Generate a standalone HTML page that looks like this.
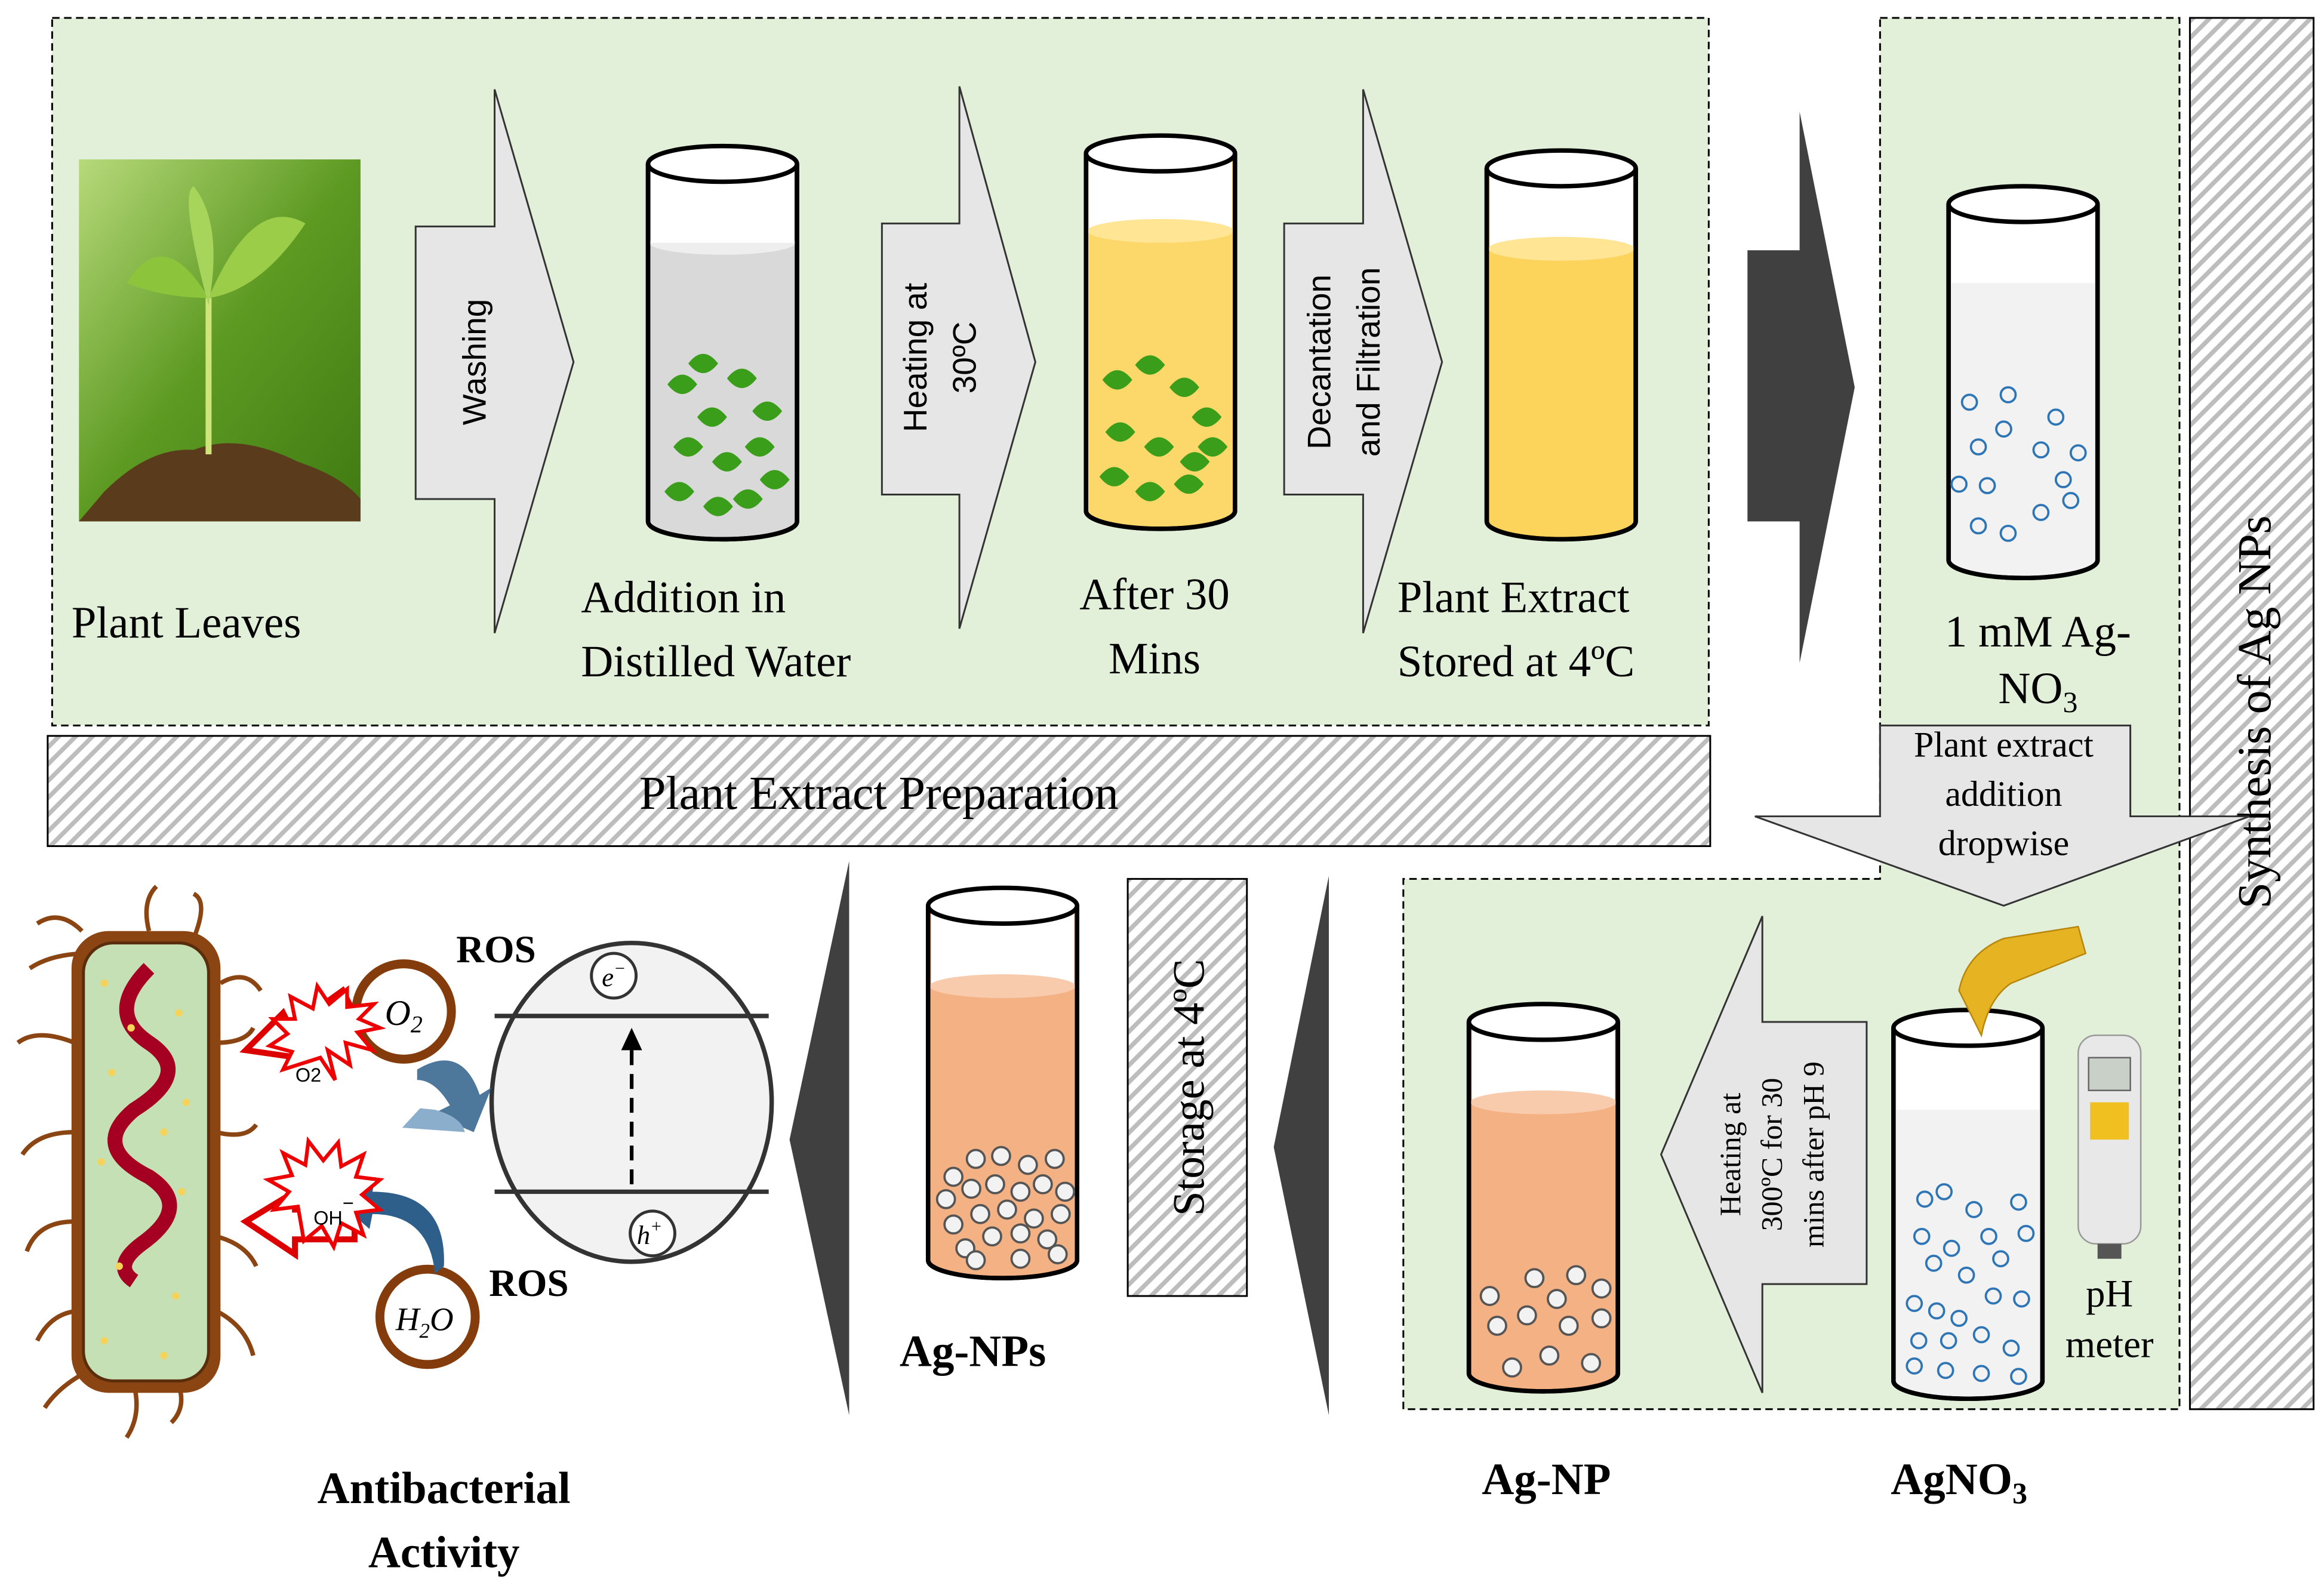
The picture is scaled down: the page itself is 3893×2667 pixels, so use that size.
<!DOCTYPE html>
<html><head><meta charset="utf-8"><style>html,body{margin:0;padding:0;background:#fff}svg{display:block}</style></head>
<body>
<svg width="3893" height="2667" viewBox="0 0 1560 1068.7" xmlns="http://www.w3.org/2000/svg" font-family="Liberation Serif, serif">
<defs>
<pattern id="hat" width="8" height="8" patternUnits="userSpaceOnUse" patternTransform="rotate(45)"><rect width="8" height="8" fill="#fff"/><rect width="3" height="8" fill="#bdbdbd"/></pattern>
<linearGradient id="bg" x1="0" y1="0" x2="1" y2="1"><stop offset="0" stop-color="#b7d97a"/><stop offset="0.5" stop-color="#5d9a22"/><stop offset="1" stop-color="#3f7a12"/></linearGradient>
<g id="leaf"><path d="M0,0 q10,-13 20,0 q-10,13 -20,0z" fill="#3a9e1a"/></g>
</defs>
<rect width="1560" height="1069" fill="#fff"/>
<rect x="35" y="12" width="1112" height="475" fill="#e2efd9" stroke="#000" stroke-width="1.2" stroke-dasharray="5,3"/>
<path d="M1262,12 H1463 V946 H942 V590 H1262 Z" fill="#e2efd9" stroke="#000" stroke-width="1.2" stroke-dasharray="5,3"/>
<rect x="32" y="494" width="1116" height="74" fill="url(#hat)" stroke="#000" stroke-width="1.2"/>
<text x="590" y="543" font-size="32" text-anchor="middle">Plant Extract Preparation</text>
<rect x="1470" y="12" width="83" height="934" fill="url(#hat)" stroke="#000" stroke-width="1.2"/>
<text transform="translate(1524,478) rotate(-90)" font-size="32" text-anchor="middle">Synthesis of Ag NPs</text>
<rect x="757" y="590" width="80" height="280" fill="url(#hat)" stroke="#000" stroke-width="1.2"/>
<text transform="translate(808,730) rotate(-90)" font-size="30" text-anchor="middle">Storage at 4ºC</text>
<rect x="53" y="107" width="189" height="243" fill="url(#bg)"/>
<path d="M53,350 L70,330 Q100,300 130,302 Q160,290 200,310 Q230,320 242,335 L242,350Z" fill="#5a3b1c"/>
<path d="M140,305 L140,200" stroke="#cfe47a" stroke-width="4"/>
<path d="M140,200 Q110,150 85,190 Q110,200 140,200Z" fill="#8cc43c"/>
<path d="M140,200 Q170,130 205,150 Q175,195 140,200Z" fill="#9ccd48"/>
<path d="M140,205 Q120,130 130,125 Q150,150 140,205Z" fill="#a7d45a"/>
<text x="48" y="428" font-size="30">Plant Leaves</text>
<g fill="#e6e6e6" stroke="#333" stroke-width="1.2">
<path d="M279,152 H332 V60 L385,243 L332,425 V335 H279Z"/>
<path d="M592,150 H644 V58 L695,243 L644,422 V332 H592Z"/>
<path d="M862,150 H915 V60 L968,243 L915,425 V332 H862Z"/>
<path d="M1178,548 H1262 V487 H1430 V548 H1510 L1345,608Z"/>
<path d="M1253,686 V862 H1183 V935 L1115,775 L1183,615 V686Z"/>
</g>
<g font-family="Liberation Sans, sans-serif" font-size="22">
<text transform="translate(326,243) rotate(-90)" text-anchor="middle">Washing</text>
<text transform="translate(622,240) rotate(-90)" text-anchor="middle">Heating at</text>
<text transform="translate(655,240) rotate(-90)" text-anchor="middle">30ºC</text>
<text transform="translate(893,243) rotate(-90)" text-anchor="middle">Decantation</text>
<text transform="translate(926,243) rotate(-90)" text-anchor="middle">and Filtration</text>
</g>
<text x="1345" y="508" font-size="24" text-anchor="middle">Plant extract</text>
<text x="1345" y="541" font-size="24" text-anchor="middle">addition</text>
<text x="1345" y="574" font-size="24" text-anchor="middle">dropwise</text>
<g font-size="20" text-anchor="middle">
<text transform="translate(1168,775) rotate(-90)">Heating at</text>
<text transform="translate(1196,775) rotate(-90)">300ºC for 30</text>
<text transform="translate(1224,775) rotate(-90)">mins after pH 9</text>
</g>
<g fill="#404040">
<path d="M1173,168 H1208 V75 L1245,260 L1208,445 V350 H1173Z"/>
<path d="M892,588 L855,770 L892,950Z"/>
<path d="M570,578 L530,765 L570,950Z"/>
</g>
<g stroke="#000" stroke-width="3">
<path d="M435,110 V350 A50,12 0 0 0 535,350 V110" fill="#d9d9d9"/>
<ellipse cx="485" cy="163" rx="49" ry="8" fill="#eeeeee" stroke="none"/>
<path d="M437,110 V163 H533 V110Z" fill="#fff" stroke="none"/>
<ellipse cx="485" cy="110" rx="50" ry="12" fill="#fff"/>
<path d="M435,110 V350 A50,12 0 0 0 535,350 V110" fill="none"/>
<path d="M729,103 V343 A50,12 0 0 0 829,343 V103" fill="#fcd76a"/>
<path d="M731,103 V155 H827 V103Z" fill="#fff" stroke="none"/>
<ellipse cx="779" cy="155" rx="49" ry="8" fill="#ffe594" stroke="none"/>
<ellipse cx="779" cy="103" rx="50" ry="12" fill="#fff"/>
<path d="M729,103 V343 A50,12 0 0 0 829,343 V103" fill="none"/>
<path d="M998,113 V350 A50,12 0 0 0 1098,350 V113" fill="#fcd45c"/>
<path d="M1000,113 V167 H1096 V113Z" fill="#fff" stroke="none"/>
<ellipse cx="1048" cy="167" rx="49" ry="8" fill="#ffe594" stroke="none"/>
<ellipse cx="1048" cy="113" rx="50" ry="12" fill="#fff"/>
<path d="M998,113 V350 A50,12 0 0 0 1098,350 V113" fill="none"/>
<path d="M1308,137 V376 A50,12 0 0 0 1408,376 V137" fill="#f2f2f2"/>
<path d="M1310,137 V190 H1406 V137Z" fill="#fff" stroke="none"/>
<ellipse cx="1358" cy="137" rx="50" ry="12" fill="#fff"/>
<path d="M1308,137 V376 A50,12 0 0 0 1408,376 V137" fill="none"/>
<path d="M1271,690 V927 A50,12 0 0 0 1371,927 V690" fill="#f2f2f2"/>
<path d="M1273,690 V745 H1369 V690Z" fill="#fff" stroke="none"/>
<ellipse cx="1321" cy="690" rx="50" ry="12" fill="#fff"/>
<path d="M1271,690 V927 A50,12 0 0 0 1371,927 V690" fill="none"/>
<path d="M986,686 V922 A50,12 0 0 0 1086,922 V686" fill="#f4b183"/>
<path d="M988,686 V740 H1084 V686Z" fill="#fff" stroke="none"/>
<ellipse cx="1036" cy="740" rx="49" ry="8" fill="#f8cbad" stroke="none"/>
<ellipse cx="1036" cy="686" rx="50" ry="12" fill="#fff"/>
<path d="M986,686 V922 A50,12 0 0 0 1086,922 V686" fill="none"/>
<path d="M623,608 V846 A50,12 0 0 0 723,846 V608" fill="#f4b183"/>
<path d="M625,608 V662 H721 V608Z" fill="#fff" stroke="none"/>
<ellipse cx="673" cy="662" rx="49" ry="8" fill="#f8cbad" stroke="none"/>
<ellipse cx="673" cy="608" rx="50" ry="12" fill="#fff"/>
<path d="M623,608 V846 A50,12 0 0 0 723,846 V608" fill="none"/>
</g>
<g>
<use href="#leaf" x="448" y="258"/><use href="#leaf" x="468" y="280"/><use href="#leaf" x="488" y="254"/><use href="#leaf" x="505" y="276"/><use href="#leaf" x="452" y="300"/><use href="#leaf" x="478" y="310"/><use href="#leaf" x="500" y="300"/><use href="#leaf" x="510" y="322"/><use href="#leaf" x="446" y="330"/><use href="#leaf" x="472" y="340"/><use href="#leaf" x="492" y="335"/><use href="#leaf" x="462" y="244"/>
<use href="#leaf" x="740" y="255"/><use href="#leaf" x="762" y="245"/><use href="#leaf" x="785" y="260"/><use href="#leaf" x="800" y="280"/><use href="#leaf" x="742" y="290"/><use href="#leaf" x="768" y="300"/><use href="#leaf" x="792" y="310"/><use href="#leaf" x="738" y="320"/><use href="#leaf" x="762" y="330"/><use href="#leaf" x="788" y="325"/><use href="#leaf" x="804" y="300"/>
</g>
<g fill="none" stroke="#2e75b6" stroke-width="1.5">
<circle cx="1322" cy="270" r="5"/><circle cx="1348" cy="265" r="5"/><circle cx="1380" cy="280" r="5"/><circle cx="1328" cy="300" r="5"/><circle cx="1345" cy="288" r="5"/><circle cx="1370" cy="302" r="5"/><circle cx="1395" cy="304" r="5"/><circle cx="1315" cy="325" r="5"/><circle cx="1334" cy="326" r="5"/><circle cx="1385" cy="322" r="5"/><circle cx="1390" cy="336" r="5"/><circle cx="1328" cy="353" r="5"/><circle cx="1348" cy="358" r="5"/><circle cx="1370" cy="344" r="5"/>
<circle cx="1292" cy="805" r="5"/><circle cx="1305" cy="800" r="5"/><circle cx="1325" cy="812" r="5"/><circle cx="1355" cy="807" r="5"/><circle cx="1290" cy="830" r="5"/><circle cx="1310" cy="838" r="5"/><circle cx="1335" cy="830" r="5"/><circle cx="1360" cy="828" r="5"/><circle cx="1298" cy="848" r="5"/><circle cx="1320" cy="856" r="5"/><circle cx="1343" cy="845" r="5"/><circle cx="1285" cy="875" r="5"/><circle cx="1300" cy="880" r="5"/><circle cx="1315" cy="885" r="5"/><circle cx="1338" cy="870" r="5"/><circle cx="1357" cy="872" r="5"/><circle cx="1288" cy="900" r="5"/><circle cx="1308" cy="900" r="5"/><circle cx="1330" cy="896" r="5"/><circle cx="1350" cy="905" r="5"/><circle cx="1285" cy="917" r="5"/><circle cx="1306" cy="920" r="5"/><circle cx="1330" cy="922" r="5"/><circle cx="1355" cy="924" r="5"/>
</g>
<g fill="#f2f2f2" stroke="#555" stroke-width="1.5">
<circle cx="1000" cy="870" r="6"/><circle cx="1030" cy="858" r="6"/><circle cx="1058" cy="856" r="6"/><circle cx="1075" cy="865" r="6"/><circle cx="1005" cy="890" r="6"/><circle cx="1025" cy="883" r="6"/><circle cx="1045" cy="872" r="6"/><circle cx="1053" cy="890" r="6"/><circle cx="1075" cy="885" r="6"/><circle cx="1015" cy="918" r="6"/><circle cx="1040" cy="910" r="6"/><circle cx="1068" cy="915" r="6"/>
<circle cx="640" cy="790" r="6"/><circle cx="655" cy="778" r="6"/><circle cx="672" cy="776" r="6"/><circle cx="690" cy="782" r="6"/><circle cx="708" cy="778" r="6"/><circle cx="635" cy="805" r="6"/><circle cx="652" cy="798" r="6"/><circle cx="668" cy="795" r="6"/><circle cx="685" cy="800" r="6"/><circle cx="700" cy="795" r="6"/><circle cx="715" cy="800" r="6"/><circle cx="640" cy="822" r="6"/><circle cx="658" cy="815" r="6"/><circle cx="676" cy="812" r="6"/><circle cx="694" cy="818" r="6"/><circle cx="712" cy="815" r="6"/><circle cx="648" cy="838" r="6"/><circle cx="666" cy="830" r="6"/><circle cx="685" cy="828" r="6"/><circle cx="703" cy="832" r="6"/><circle cx="655" cy="846" r="6"/><circle cx="685" cy="845" r="6"/><circle cx="710" cy="842" r="6"/>
</g>
<path d="M1315,665 Q1320,640 1345,630 L1395,622 L1400,640 L1350,660 Q1335,670 1330,695 Z" fill="#e6b422" stroke="#b8860b"/>
<rect x="1395" y="695" width="42" height="140" rx="12" fill="#e8e8e8" stroke="#999"/>
<rect x="1402" y="710" width="28" height="22" fill="#c8d0c8" stroke="#666"/>
<rect x="1403" y="740" width="26" height="25" fill="#f0c020"/>
<rect x="1408" y="835" width="16" height="10" fill="#555"/>
<text x="1416" y="877" font-size="26" text-anchor="middle">pH</text>
<text x="1416" y="911" font-size="26" text-anchor="middle">meter</text>
<g font-size="30">
<text x="390" y="411">Addition  in</text>
<text x="390" y="454">Distilled  Water</text>
<text x="775" y="409" text-anchor="middle">After 30</text>
<text x="775" y="452" text-anchor="middle">Mins</text>
<text x="938" y="411">Plant Extract</text>
<text x="938" y="454">Stored at 4ºC</text>
<text x="1368" y="434" text-anchor="middle">1 mM Ag-</text>
<text x="1368" y="472" text-anchor="middle">NO<tspan font-size="20" dy="6">3</tspan></text>
</g>
<g font-size="30" font-weight="bold" text-anchor="middle">
<text x="653" y="917">Ag-NPs</text>
<text x="1038" y="1003">Ag-NP</text>
<text x="1315" y="1003">AgNO<tspan font-size="20" dy="6">3</tspan></text>
<text x="298" y="1009">Antibacterial</text>
<text x="298" y="1052">Activity</text>
<text x="333" y="646" font-size="26">ROS</text>
<text x="355" y="870" font-size="26">ROS</text>
</g>
<ellipse cx="424" cy="740" rx="94" ry="107" fill="#f2f2f2" stroke="#333" stroke-width="3"/>
<line x1="332" y1="682" x2="516" y2="682" stroke="#333" stroke-width="3"/>
<line x1="332" y1="800" x2="516" y2="800" stroke="#333" stroke-width="3"/>
<line x1="424" y1="795" x2="424" y2="700" stroke="#000" stroke-width="2.5" stroke-dasharray="10,6"/>
<path d="M417,705 L424,690 L431,705Z" fill="#000"/>
<circle cx="412" cy="655" r="15" fill="#fff" stroke="#333" stroke-width="2"/>
<text x="412" y="662" font-size="18" font-style="italic" text-anchor="middle">e<tspan font-size="12" dy="-8">−</tspan></text>
<circle cx="438" cy="828" r="15" fill="#fff" stroke="#333" stroke-width="2"/>
<text x="436" y="835" font-size="18" font-style="italic" text-anchor="middle">h<tspan font-size="12" dy="-8">+</tspan></text>
<circle cx="271" cy="679" r="32" fill="#fff" stroke="#843c0c" stroke-width="6"/>
<text x="271" y="688" font-size="24" font-style="italic" text-anchor="middle">O<tspan font-size="16" dy="5">2</tspan></text>
<circle cx="287" cy="884" r="32" fill="#fff" stroke="#843c0c" stroke-width="6"/>
<text x="285" y="893" font-size="22" font-style="italic" text-anchor="middle">H<tspan font-size="14" dy="5">2</tspan><tspan dy="-5">O</tspan></text>
<path d="M280,718 Q310,700 322,735 L330,730 L318,760 L290,748 L302,742 Q292,725 280,725Z" fill="#2e5f8a" opacity="0.85"/>
<path d="M298,850 Q300,800 250,800 L252,790 L225,805 L248,825 L250,815 Q288,815 292,855Z" fill="#2e5f8a"/>
<path d="M292,745 Q310,750 312,760 L270,757 L282,744Z" fill="#8aaecb"/>
<g fill="none" stroke="#d00" stroke-width="4">
<path d="M230,665 L195,690 L190,680 L165,705 L200,710 L196,700 L235,675Z" fill="#fff"/>
<path d="M238,832 L198,832 L198,842 L165,820 L198,800 L198,812 L238,812Z" fill="#fff"/>
</g>
<path d="M205,690 l10,15 l-5,-20 l15,10 l-3,-15 l18,5 l-10,-12 l15,-3 l-14,-6 l10,-10 l-18,2 l0,-12 l-12,10 l-8,-12 l-3,15 l-15,-8 l3,15 l-15,0 l10,10 l-12,8 l15,4 l-6,12 z" transform="translate(10,20)" fill="#fff" stroke="#e00" stroke-width="2.5"/>
<text x="207" y="726" font-size="13" font-family="Liberation Sans, sans-serif" text-anchor="middle">O2</text>
<path d="M200,810 l-16,2 l10,-12 l-14,-8 l16,-3 l-6,-15 l15,8 l2,-16 l10,13 l10,-12 l2,16 l15,-8 l-5,15 l16,2 l-12,10 l12,10 l-16,2 l5,15 l-15,-8 l-5,16 l-8,-14 l-12,10z" fill="#fff" stroke="#e00" stroke-width="2.5"/>
<text x="224" y="822" font-size="13" font-family="Liberation Sans, sans-serif" text-anchor="middle">OH<tspan dy="-10">−</tspan></text>
<g stroke="#8b4513" stroke-width="3" fill="none">
<path d="M55,625 Q40,610 25,620 M60,640 Q35,640 20,650 M50,700 Q25,690 12,700 M50,760 Q25,760 15,775 M50,820 Q25,820 18,840 M55,880 Q35,880 25,900 M60,920 Q40,930 30,945 M90,930 Q95,950 85,965 M120,930 Q125,945 115,955 M130,630 Q140,605 130,600 M100,625 Q95,605 105,595 M145,700 Q165,700 170,690 M145,760 Q165,765 172,755 M145,830 Q165,835 172,850 M145,880 Q165,890 170,910 M148,660 Q165,650 175,665"/>
</g>
<rect x="48" y="625" width="100" height="310" rx="25" fill="#8b4513"/>
<rect x="56" y="633" width="84" height="294" rx="20" fill="#c5e0b4" stroke="#5a2d0c" stroke-width="2"/>
<path d="M100,650 Q70,680 100,700 Q130,720 90,745 Q60,770 100,790 Q130,810 95,835 Q75,850 90,860" fill="none" stroke="#a50021" stroke-width="10"/>
<g fill="#f5d35a"><circle cx="70" cy="660" r="2.5"/><circle cx="120" cy="680" r="2.5"/><circle cx="75" cy="720" r="2.5"/><circle cx="125" cy="740" r="2.5"/><circle cx="68" cy="780" r="2.5"/><circle cx="122" cy="800" r="2.5"/><circle cx="80" cy="850" r="2.5"/><circle cx="118" cy="870" r="2.5"/><circle cx="70" cy="900" r="2.5"/><circle cx="110" cy="910" r="2.5"/><circle cx="88" cy="690" r="2.5"/><circle cx="110" cy="760" r="2.5"/></g>
</svg>
</body></html>
